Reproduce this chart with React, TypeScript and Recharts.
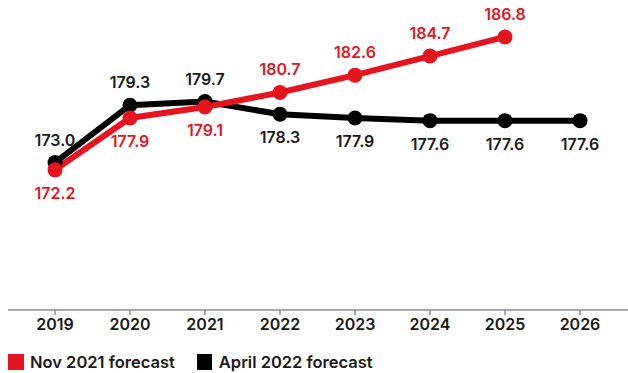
import React from 'react';
import { LineChart, Line, XAxis, YAxis, LabelList } from 'recharts';

const years = ['2019', '2020', '2021', '2022', '2023', '2024', '2025', '2026'];
const nov2021 = [172.2, 177.9, 179.1, 180.7, 182.6, 184.7, 186.8, null];
const apr2022 = [173.0, 179.3, 179.7, 178.3, 177.9, 177.6, 177.6, 177.6];

const RED = '#e5141f';
const BLACK = '#000000';
const FONT = 'Inter, Roboto, sans-serif';

// which points carry their value label under the dot
const redBelow = ['2019', '2020', '2021'];
const blackBelow = ['2022', '2023', '2024', '2025', '2026'];

const data = years.map((y, i) => ({ year: y, nov: nov2021[i], apr: apr2022[i] }));

function makeLabel(color: string, below: string[]) {
  return (props: any) => {
    const { x, y, value, index } = props;
    if (value === null || value === undefined) return null;
    const isBelow = below.includes(years[index]);
    return (
      <text
        x={x}
        y={isBelow ? y + 23 : y - 23}
        textAnchor="middle"
        dominantBaseline="central"
        fill={color}
        style={{ fontFamily: FONT, fontSize: 16, fontWeight: 600 }}
      >
        {value.toFixed(1)}
      </text>
    );
  };
}

export default function App() {
  return (
    <div style={{ position: 'absolute', left: 0, top: 0, width: 628, height: 373, background: '#fff', fontFamily: FONT }}>
      <LineChart width={628} height={340} data={data} margin={{ top: 16, right: 0, left: 8, bottom: 0 }}>
        <XAxis
          dataKey="year"
          height={30}
          padding={{ left: 47, right: 48 }}
          axisLine={{ stroke: '#8a8a8a', strokeWidth: 1.5 }}
          tickLine={{ stroke: '#8a8a8a', strokeWidth: 1.5 }}
          tickSize={5}
          tickMargin={4}
          tick={{ fill: '#1a1a1a', fontSize: 16, fontWeight: 600, fontFamily: FONT }}
        />
        <YAxis hide domain={[156.8, 189.1]} />
        <Line
          type="linear"
          dataKey="apr"
          stroke={BLACK}
          strokeWidth={6}
          dot={{ r: 7.5, fill: BLACK, stroke: 'none' }}
          activeDot={false}
          isAnimationActive={false}
        >
          <LabelList dataKey="apr" content={makeLabel('#1a1a1a', blackBelow)} />
        </Line>
        <Line
          type="linear"
          dataKey="nov"
          stroke={RED}
          strokeWidth={6}
          dot={{ r: 7.5, fill: RED, stroke: 'none' }}
          activeDot={false}
          connectNulls={false}
          isAnimationActive={false}
        >
          <LabelList dataKey="nov" content={makeLabel(RED, redBelow)} />
        </Line>
      </LineChart>
      <div style={{ position: 'absolute', left: 8, top: 352, display: 'flex', alignItems: 'center', fontSize: 16.5, fontWeight: 600, color: '#1a1a1a' }}>
        <span style={{ display: 'inline-block', width: 16, height: 16, background: RED, marginRight: 6 }} />
        <span style={{ marginRight: 22 }}>Nov 2021 forecast</span>
        <span style={{ display: 'inline-block', width: 15, height: 16, background: BLACK, marginRight: 7 }} />
        <span>April 2022 forecast</span>
      </div>
    </div>
  );
}
